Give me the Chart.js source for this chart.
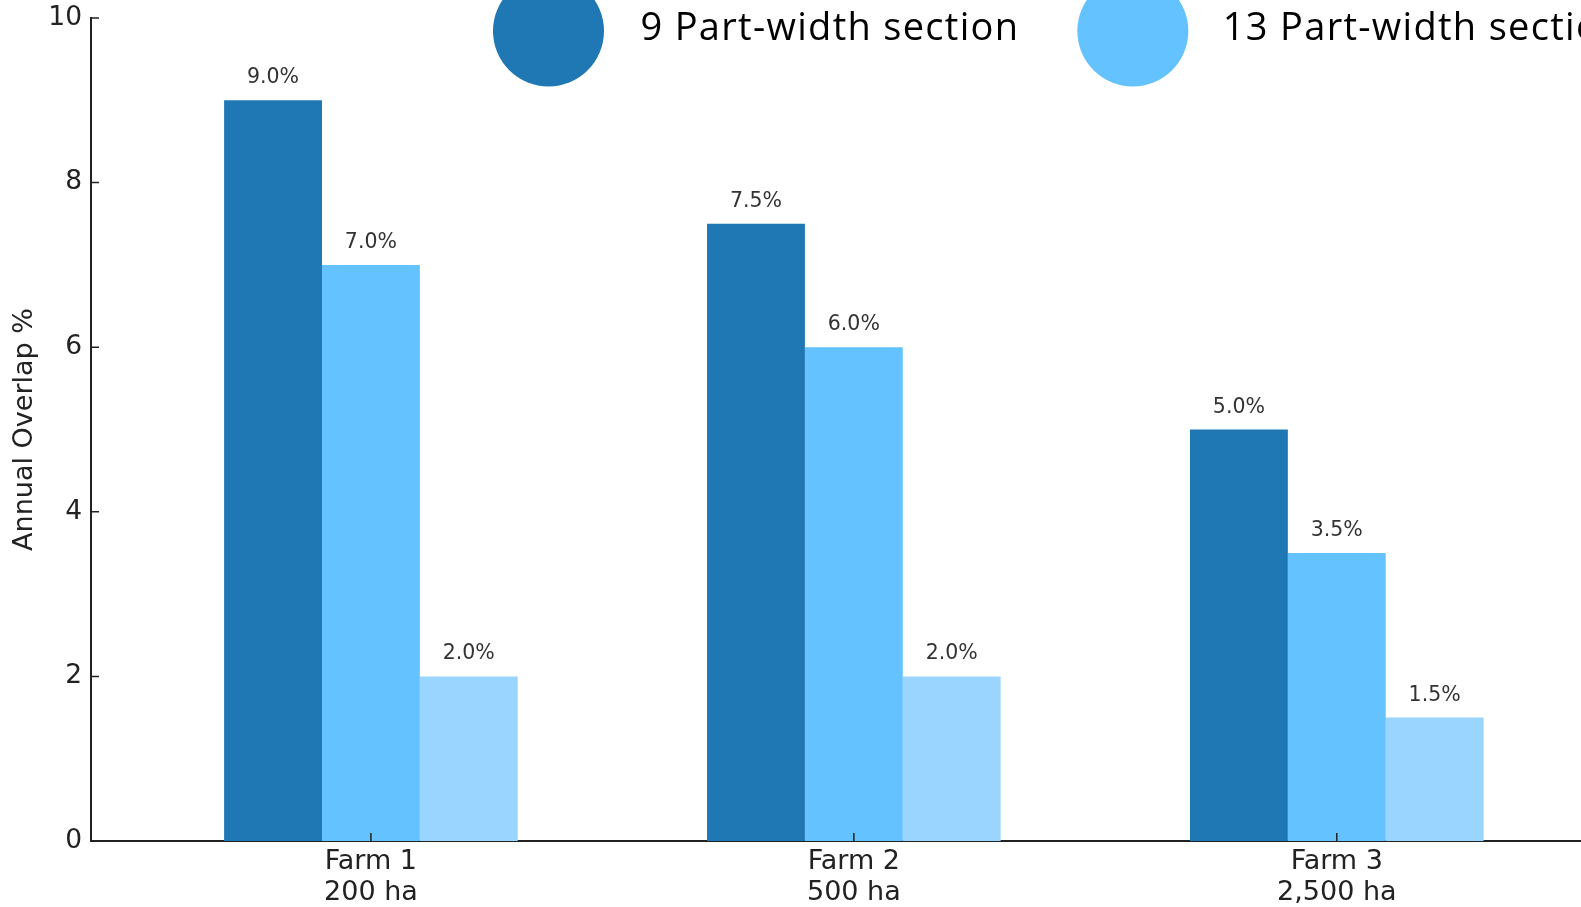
<!DOCTYPE html>
<html>
<head>
<meta charset="utf-8">
<script src="https://cdn.jsdelivr.net/npm/chart.js@4.4.0/dist/chart.umd.min.js"></script>
<style>
  html, body { margin: 0; padding: 0; background: #fff; }
  #wrap { width: 1581px; height: 907px; }
</style>
</head>
<body>
<div id="wrap"><canvas id="overlapChart" width="1581" height="907"></canvas></div>
<script>
'use strict';

// Chart data
const farmLabels = [['Farm 1', '200 ha'], ['Farm 2', '500 ha'], ['Farm 3', '2,500 ha']];
const seriesNames = ['9 Part-width section', '13 Part-width section', 'Individual nozzle control'];
const nineSection = [9.0, 7.5, 5.0];
const thirteenSection = [7.0, 6.0, 3.5];
const nozzleControl = [2.0, 2.0, 1.5];
const yTicks = [0, 2, 4, 6, 8, 10];

const colors = ['#1f77b4', '#64c2ff', '#9ad5ff'];
const axisColor = '#222222';

function toPoints(values) {
    return values.map(function(v, i) { return { x: i, y: v }; });
}

// Bar value labels ("9.0%")
const valueLabels = {
    id: 'valueLabels',
    afterDatasetsDraw: function(chart) {
        const ctx = chart.ctx;
        ctx.save();
        ctx.font = '20.5px "DejaVu Sans"';
        ctx.fillStyle = '#333333';
        ctx.textAlign = 'center';
        ctx.textBaseline = 'alphabetic';
        chart.data.datasets.forEach(function(ds, di) {
            chart.getDatasetMeta(di).data.forEach(function(bar, i) {
                ctx.fillText(ds.data[i].y.toFixed(1) + '%', bar.x, bar.y - 17);
            });
        });
        ctx.restore();
    }
};

// Inward tick marks, matplotlib style
const innerTicks = {
    id: 'innerTicks',
    afterDraw: function(chart) {
        const ctx = chart.ctx;
        const xs = chart.scales.x;
        const ys = chart.scales.y;
        const area = chart.chartArea;
        ctx.save();
        ctx.strokeStyle = axisColor;
        ctx.lineWidth = 1.5;
        ctx.beginPath();
        ys.ticks.forEach(function(t) {
            const py = ys.getPixelForValue(t.value);
            ctx.moveTo(area.left, py);
            ctx.lineTo(area.left + 8, py);
        });
        xs.ticks.forEach(function(t) {
            const px = xs.getPixelForValue(t.value);
            ctx.moveTo(px, area.bottom);
            ctx.lineTo(px, area.bottom - 8);
        });
        ctx.stroke();
        ctx.restore();
    }
};

// Big-circle legend across the top (runs off the canvas edge like the original)
const bigLegend = {
    id: 'bigLegend',
    afterDraw: function(chart) {
        const ctx = chart.ctx;
        const r = 55.5;
        let x = 493;
        const cy = 31;
        ctx.save();
        ctx.font = '38px "Open Sans"';
        ctx.letterSpacing = '1.3px';
        ctx.textBaseline = 'alphabetic';
        ctx.textAlign = 'left';
        chart.data.datasets.forEach(function(ds) {
            ctx.fillStyle = ds.backgroundColor;
            ctx.beginPath();
            ctx.arc(x + r, cy, r, 0, Math.PI * 2);
            ctx.fill();
            ctx.fillStyle = '#000000';
            // align the ink (not the advance box) a fixed gap after the circle
            const m = ctx.measureText(ds.label);
            const tx = x + r + 93 + m.actualBoundingBoxLeft;
            ctx.fillText(ds.label, tx, 40);
            x = tx + m.width + 58;
        });
        ctx.restore();
    }
};

const ctx = document.getElementById('overlapChart').getContext('2d');
new Chart(ctx, {
    type: 'bar',
    data: {
        datasets: [
            { label: seriesNames[0], data: toPoints(nineSection), backgroundColor: colors[0] },
            { label: seriesNames[1], data: toPoints(thirteenSection), backgroundColor: colors[1] },
            { label: seriesNames[2], data: toPoints(nozzleControl), backgroundColor: colors[2] }
        ]
    },
    options: {
        responsive: false,
        animation: false,
        categoryPercentage: 0.608,
        barPercentage: 1.0,
        layout: { padding: { top: 18, right: 0, left: 0, bottom: 0 } },
        plugins: {
            legend: { display: false },
            tooltip: { enabled: false }
        },
        scales: {
            x: {
                type: 'linear',
                offset: false,
                min: -0.5796,
                max: 2.5057,
                afterBuildTicks: function(axis) {
                    axis.ticks = farmLabels.map(function(_, i) { return { value: i }; });
                },
                afterFit: function(axis) {
                    axis.height = 66;
                    axis.paddingLeft = 0;
                    axis.paddingRight = 0;
                },
                grid: { display: false, drawTicks: false },
                border: { display: true, color: axisColor, width: 2 },
                ticks: {
                    autoSkip: false,
                    maxRotation: 0,
                    includeBounds: false,
                    padding: 5,
                    color: axisColor,
                    font: { family: 'DejaVu Sans', size: 27, lineHeight: 1.15 },
                    callback: function(value) { return farmLabels[value]; }
                }
            },
            y: {
                min: 0,
                max: 10,
                afterBuildTicks: function(axis) {
                    axis.ticks = yTicks.map(function(v) { return { value: v }; });
                },
                afterFit: function(axis) {
                    axis.width = 91;
                    axis.paddingTop = 0;
                    axis.paddingBottom = 0;
                },
                grid: { display: false, drawTicks: false },
                border: { display: true, color: axisColor, width: 2 },
                ticks: {
                    padding: 9,
                    color: axisColor,
                    font: { family: 'DejaVu Sans', size: 26.5 }
                },
                title: {
                    display: true,
                    text: 'Annual Overlap %',
                    color: axisColor,
                    font: { family: 'DejaVu Sans', size: 27 },
                    padding: { top: 9, bottom: 0 }
                }
            }
        }
    },
    plugins: [valueLabels, innerTicks, bigLegend]
});
</script>
</body>
</html>
